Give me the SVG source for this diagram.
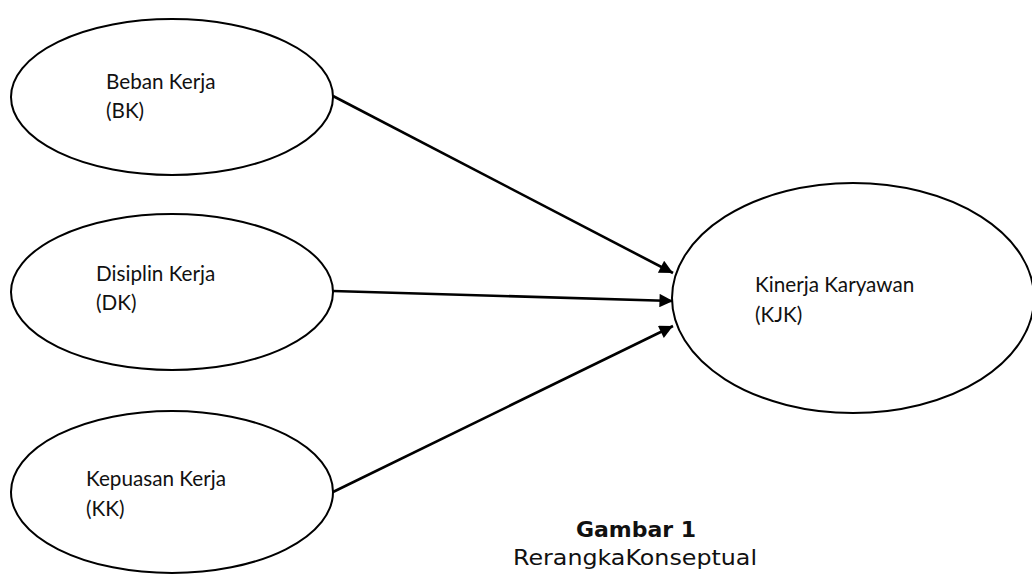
<svg xmlns="http://www.w3.org/2000/svg" width="1032" height="576" viewBox="0 0 1032 576">
<style>
.node ellipse{fill:#fff;stroke:#000;stroke-width:2}
.lbl{font-family:Lato,"Open Sans",sans-serif;font-size:20.7px;fill:#111}
.conn line{stroke:#000;stroke-width:2.6}
.cap{font-family:"DejaVu Sans",sans-serif;font-size:22px;fill:#111;text-anchor:middle}
</style>
<defs>
<marker id="ah" viewBox="0 0 10 10" refX="10" refY="5" markerWidth="6" markerHeight="5.2" markerUnits="strokeWidth" orient="auto">
<path d="M0,0 L10,5 L0,10 z" fill="#000"/>
</marker>
</defs>
<g id="BK" class="node">
<ellipse cx="172" cy="97" rx="161" ry="78"/>
<text class="lbl" x="106" y="89">Beban Kerja</text>
<text class="lbl" x="106" y="118">(BK)</text>
</g>
<g id="DK" class="node">
<ellipse cx="172" cy="292" rx="161" ry="78"/>
<text class="lbl" x="96" y="281">Disiplin Kerja</text>
<text class="lbl" x="96" y="310">(DK)</text>
</g>
<g id="KK" class="node">
<ellipse cx="172" cy="492" rx="161" ry="81"/>
<text class="lbl" x="86" y="486">Kepuasan Kerja</text>
<text class="lbl" x="86" y="516">(KK)</text>
</g>
<g id="KJK" class="node">
<ellipse cx="853" cy="298" rx="181" ry="115"/>
<text class="lbl" x="755" y="292">Kinerja Karyawan</text>
<text class="lbl" x="755" y="322">(KJK)</text>
</g>
<g id="connectors" class="conn">
<line x1="333" y1="96" x2="673" y2="273" marker-end="url(#ah)"/>
<line x1="333" y1="291" x2="673" y2="301" marker-end="url(#ah)"/>
<line x1="333" y1="492" x2="673" y2="326" marker-end="url(#ah)"/>
</g>
<g id="caption">
<text class="cap" x="636" y="537" font-weight="bold">Gambar 1</text>
<text class="cap" x="635" y="565" textLength="244" lengthAdjust="spacingAndGlyphs">RerangkaKonseptual</text>
</g>
</svg>
